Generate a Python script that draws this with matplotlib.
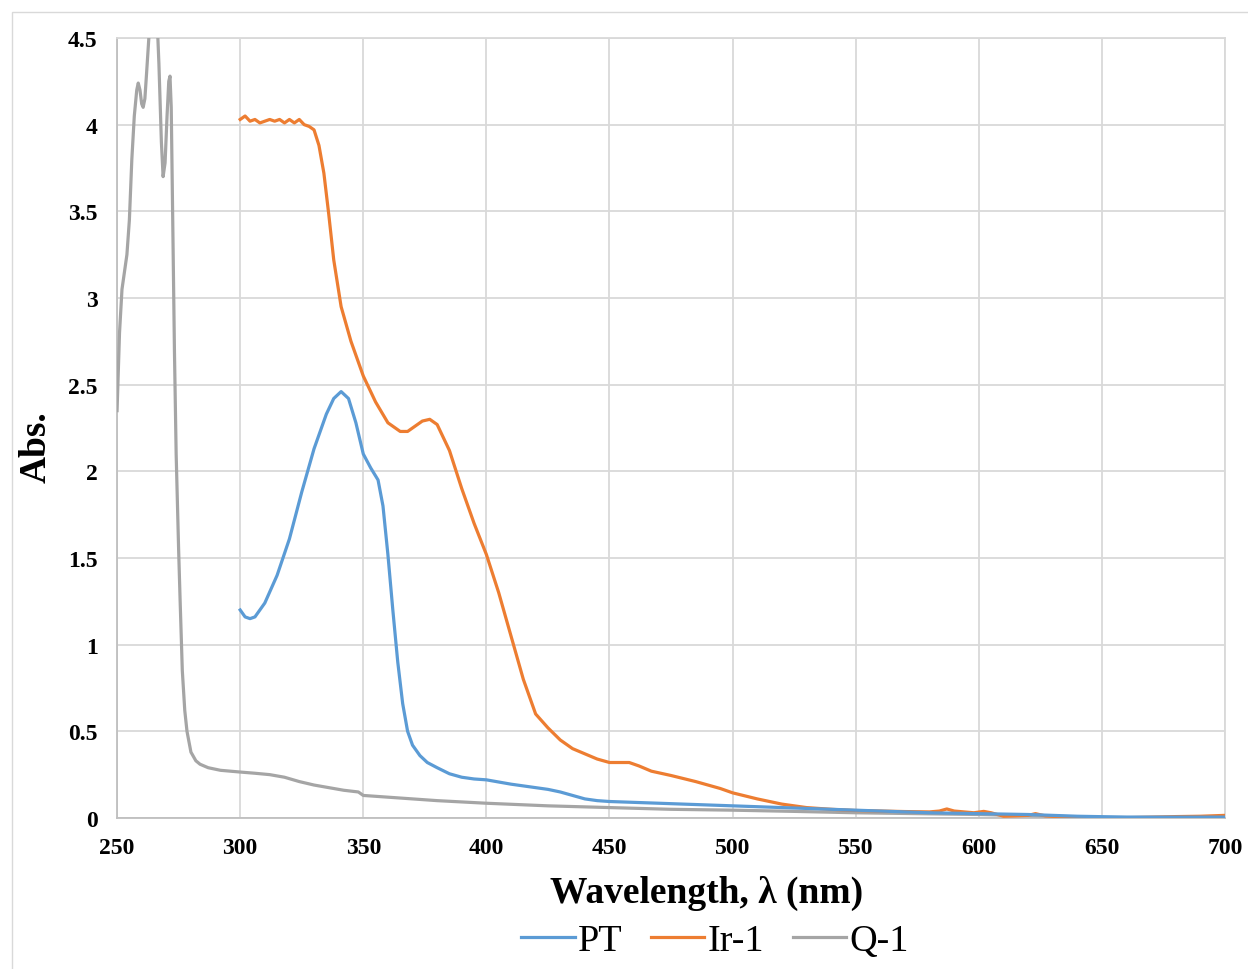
import matplotlib.pyplot as plt
from matplotlib.patches import Rectangle

# data
pt_x = [300, 302, 304, 306, 310, 315, 320, 325, 330, 335, 338, 341, 344, 347, 350, 353, 356, 358,
        360, 362, 364, 366, 368, 370, 373, 376, 380, 385, 390, 395, 400, 410, 420, 425, 430, 435,
        440, 445, 450, 460, 470, 480, 490, 500, 520, 540, 560, 580, 600, 620, 640, 660, 680, 700]
pt_y = [1.20, 1.16, 1.15, 1.16, 1.24, 1.40, 1.61, 1.88, 2.13, 2.33, 2.42, 2.46, 2.42, 2.28, 2.10,
        2.02, 1.95, 1.80, 1.52, 1.20, 0.90, 0.66, 0.50, 0.42, 0.36, 0.32, 0.29, 0.255, 0.235, 0.225,
        0.22, 0.195, 0.175, 0.165, 0.15, 0.13, 0.11, 0.10, 0.095, 0.09, 0.085, 0.08, 0.075, 0.07,
        0.06, 0.05, 0.04, 0.03, 0.025, 0.02, 0.01, 0.005, 0.005, 0.005]

ir_x = [300, 302, 304, 306, 308, 310, 312, 314, 316, 318, 320, 322, 324, 326, 328, 330, 332, 334,
        336, 338, 341, 345, 350, 355, 360, 365, 368, 371, 374, 377, 380, 385, 390, 395, 400, 405,
        410, 415, 420, 425, 430, 435, 440, 445, 450, 455, 458, 462, 467, 475, 485, 495, 500, 510,
        520, 530, 540, 550, 560, 570, 580, 584, 587, 590, 594, 598, 602, 605, 610, 615, 620, 623,
        627, 635, 645, 655, 665, 680, 690, 700]
ir_y = [4.03, 4.05, 4.02, 4.03, 4.01, 4.02, 4.03, 4.02, 4.03, 4.01, 4.03, 4.01, 4.03, 4.00, 3.99,
        3.97, 3.88, 3.72, 3.48, 3.22, 2.95, 2.75, 2.55, 2.40, 2.28, 2.23, 2.23, 2.26, 2.29, 2.30,
        2.27, 2.12, 1.90, 1.70, 1.52, 1.30, 1.05, 0.80, 0.60, 0.52, 0.45, 0.40, 0.37, 0.34, 0.32,
        0.32, 0.32, 0.30, 0.27, 0.245, 0.21, 0.17, 0.145, 0.11, 0.08, 0.06, 0.05, 0.043, 0.04,
        0.037, 0.035, 0.04, 0.052, 0.04, 0.035, 0.03, 0.038, 0.03, 0.01, 0.012, 0.015, 0.025,
        0.012, 0.005, 0.0, 0.0, 0.003, 0.008, 0.01, 0.015]

q_x = [250, 251, 252, 253, 254, 255, 256, 257, 258, 258.6, 259.3, 260, 260.6, 261.3, 262, 263,
       264, 265, 266, 267, 268, 268.7, 269.5, 270.3, 271, 271.5, 272, 272.6, 273.3, 274, 275,
       275.6, 276.5, 277.5, 278.4, 280, 282, 283.7, 287, 292, 300, 306, 312, 318, 324, 330,
       336, 342, 348, 350, 360, 380, 400, 425, 450, 475, 500, 525, 550, 575, 600, 625, 650,
       675, 700]
q_y = [2.35, 2.80, 3.05, 3.15, 3.25, 3.45, 3.80, 4.05, 4.20, 4.24, 4.20, 4.12, 4.10, 4.15, 4.30,
       4.52, 4.72, 4.80, 4.70, 4.35, 3.90, 3.70, 3.78, 4.05, 4.25, 4.28, 4.10, 3.46, 2.70, 2.10,
       1.55, 1.26, 0.85, 0.62, 0.50, 0.38, 0.33, 0.31, 0.29, 0.275, 0.265, 0.258, 0.25, 0.235,
       0.21, 0.19, 0.175, 0.16, 0.15, 0.13, 0.12, 0.10, 0.085, 0.07, 0.06, 0.05, 0.045, 0.038,
       0.03, 0.025, 0.02, 0.012, 0.003, 0.003, 0.005]

x_ticks = [250, 300, 350, 400, 450, 500, 550, 600, 650, 700]
y_ticks = [0, 0.5, 1, 1.5, 2, 2.5, 3, 3.5, 4, 4.5]
y_labels = ['0', '0.5', '1', '1.5', '2', '2.5', '3', '3.5', '4', '4.5']

plt.rcParams['font.family'] = ['Liberation Serif', 'DejaVu Serif']

fig = plt.figure(figsize=(12.48, 9.70), dpi=100)
ax = fig.add_axes([0.0938, 0.1557, 0.8878, 0.8041])

grid_c = '#d9d9d9'
ax.plot(q_x, q_y, color='#a5a5a5', lw=2.3, label='Q-1', zorder=3, solid_joinstyle='round')
ax.plot(ir_x, ir_y, color='#ed7d31', lw=2.3, label='Ir-1', zorder=4, solid_joinstyle='round')
ax.plot(pt_x, pt_y, color='#5b9bd5', lw=2.3, label='PT', zorder=5, solid_joinstyle='round')

ax.set_xlim(250, 700)
ax.set_ylim(0, 4.5)
ax.set_xticks(x_ticks)
ax.set_yticks(y_ticks)
ax.set_yticklabels(y_labels)
ax.tick_params(axis='y', length=0, labelsize=17, pad=14)
ax.tick_params(axis='x', length=0, labelsize=17, pad=14)
for lab in ax.get_xticklabels() + ax.get_yticklabels():
    lab.set_fontweight('bold')
ax.grid(True, color=grid_c, lw=1.3)
ax.set_axisbelow(True)
for s in ['top', 'right']:
    ax.spines[s].set_color(grid_c)
    ax.spines[s].set_linewidth(1.3)
for s in ['left', 'bottom']:
    ax.spines[s].set_color('#bfbfbf')
    ax.spines[s].set_linewidth(1.3)

ax.set_xlabel('Wavelength, λ (nm)', fontsize=27, fontweight='bold')
ax.xaxis.set_label_coords(0.5325, -0.073)
ax.set_ylabel('Abs.', fontsize=27, fontweight='bold')
ax.yaxis.set_label_coords(-0.057, 0.477)

h, l = ax.get_legend_handles_labels()
order = [2, 1, 0]
fig.legend([h[i] for i in order], [l[i] for i in order], loc='center', bbox_to_anchor=(0.573, 0.029),
           ncol=3, frameon=False, fontsize=27.5, handlelength=1.4, handletextpad=0.1, columnspacing=0.73)

fig.patches.append(Rectangle((0.0095, -0.01), 1.0, 0.997, transform=fig.transFigure,
                             fill=False, edgecolor='#d9d9d9', lw=1.0))

fig.savefig('out.png', dpi=100)
